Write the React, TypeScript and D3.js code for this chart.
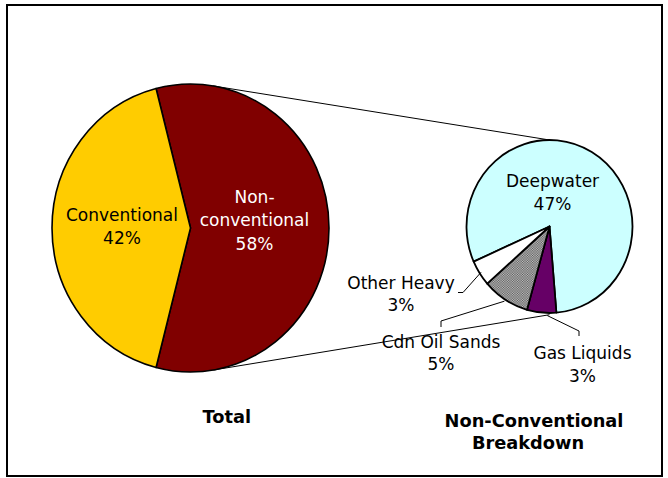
import React from "react";
import * as d3 from "d3";

// ---- data ----
const mainCategories = ["Non-\nconventional", "Conventional"];
const mainValues = [58, 42];
const mainColors = ["#800000", "#FFCC00"];
const mainTextColors = ["#ffffff", "#000000"];

const subCategories = ["Deepwater", "Gas Liquids", "Cdn Oil Sands", "Other Heavy"];
const subValues = [46.6, 3.3, 5.3, 2.8];
const subColors = ["#CCFFFF", "#660066", "url(#hatch)", "#ffffff"];

const titles = ["Total", "Non-Conventional\nBreakdown"];

// ---- layout ----
const W = 668;
const H = 478;
const BIG = { cx: 190.5, cy: 228, rx: 138.5, ry: 144 };
const SMALL = { cx: 549.5, cy: 226.5, rx: 83, ry: 86.5 };
const R = 100;
const deg = Math.PI / 180;

const mainLabelPos = [
  { x: 254.5, y: 202.5 },
  { x: 122, y: 220.5 },
];
const subLabelPos = [
  { x: 552.5, y: 187 },
  { x: 582.5, y: 359 },
  { x: 441, y: 347.5 },
  { x: 401, y: 288.5 },
];
// leader elbows (label side)
const leaders: Record<number, { pts: [number, number][]; r: number; da: number }> = {
  1: { pts: [[579, 331], [579, 336]], r: 1.03, da: -4 },
  2: { pts: [[441, 321], [441, 327]], r: 1.02, da: 0 },
  3: { pts: [[463, 292.5], [458, 292.5]], r: 0.98, da: 0 },
};

const FONT = "'DejaVu Sans', Verdana, sans-serif";

function ellPoint(e: { cx: number; cy: number; rx: number; ry: number }, a: number, k = 1) {
  return [e.cx + Math.sin(a) * e.rx * k, e.cy - Math.cos(a) * e.ry * k];
}

export default function App() {
  const arc = d3.arc<d3.PieArcDatum<number>>().innerRadius(0).outerRadius(R);

  const mainPie = d3
    .pie<number>()
    .sort(null)
    .startAngle(-14.4 * deg)
    .endAngle(-14.4 * deg + 2 * Math.PI)(mainValues);

  const subPie = d3
    .pie<number>()
    .sort(null)
    .startAngle(-114 * deg)
    .endAngle(-114 * deg + 2 * Math.PI)(subValues);

  const subTotal = d3.sum(subValues);
  const mainTotal = d3.sum(mainValues);

  const topStart = ellPoint(BIG, 9.35 * deg);
  const botStart = ellPoint(BIG, 170.5 * deg);
  const topEnd = ellPoint(SMALL, 0);
  const botEnd = ellPoint(SMALL, Math.PI, 1.02);

  return (
    <svg width={W} height={H} style={{ position: "absolute", left: 0, top: 0, background: "#fff" }}>
      <defs>
        <pattern id="hatch" width="2" height="2" patternUnits="userSpaceOnUse">
          <rect width="2" height="2" fill="#c8c8c8" />
          <rect x="0" y="0" width="1" height="1" fill="#555" />
          <rect x="1" y="1" width="1" height="1" fill="#555" />
        </pattern>
      </defs>
      <rect x={7} y={5} width={655} height={471} fill="none" stroke="#000" strokeWidth={2} />

      {/* connector lines */}
      <line x1={topStart[0]} y1={topStart[1]} x2={topEnd[0]} y2={topEnd[1]} stroke="#000" strokeWidth={1} />
      <line x1={botStart[0]} y1={botStart[1]} x2={botEnd[0]} y2={botEnd[1]} stroke="#000" strokeWidth={1} />

      {/* main pie */}
      <g transform={`translate(${BIG.cx},${BIG.cy}) scale(${BIG.rx / R},${BIG.ry / R})`}>
        {mainPie.map((d, i) => (
          <path
            key={i}
            d={arc(d) || ""}
            fill={mainColors[i]}
            stroke="#000"
            strokeWidth={1.6}
            strokeLinejoin="round"
            vectorEffect="non-scaling-stroke"
          />
        ))}
      </g>

      {/* sub pie */}
      <g transform={`translate(${SMALL.cx},${SMALL.cy}) scale(${SMALL.rx / R},${SMALL.ry / R})`}>
        {subPie.map((d, i) => (
          <path
            key={i}
            d={arc(d) || ""}
            fill={subColors[i]}
            stroke="#000"
            strokeWidth={1.8}
            strokeLinejoin="round"
            vectorEffect="non-scaling-stroke"
          />
        ))}
      </g>

      {/* leader lines */}
      {subPie.map((d, i) => {
        const L = leaders[i];
        if (!L) return null;
        const mid = (d.startAngle + d.endAngle) / 2 + L.da * deg;
        const p0 = ellPoint(SMALL, mid, L.r);
        const pts = [p0, ...L.pts];
        return (
          <polyline
            key={i}
            points={pts.map((p) => p.join(",")).join(" ")}
            fill="none"
            stroke="#000"
            strokeWidth={1}
          />
        );
      })}

      {/* main labels */}
      {mainCategories.map((c, i) => {
        const lines = [...c.split("\n"), `${Math.round((mainValues[i] / mainTotal) * 100)}%`];
        return (
          <text
            key={i}
            x={mainLabelPos[i].x}
            y={mainLabelPos[i].y}
            fontFamily={FONT}
            fontSize={17}
            fill={mainTextColors[i]}
            textAnchor="middle"
          >
            {lines.map((t, j) => (
              <tspan key={j} x={mainLabelPos[i].x} dy={j === 0 ? 0 : 23.5}>
                {t}
              </tspan>
            ))}
          </text>
        );
      })}

      {/* sub labels */}
      {subCategories.map((c, i) => {
        const pct = Math.round((subValues[i] / subTotal) * mainValues[0]);
        return (
          <text
            key={i}
            x={subLabelPos[i].x}
            y={subLabelPos[i].y}
            fontFamily={FONT}
            fontSize={17}
            fill="#000"
            textAnchor="middle"
          >
            <tspan x={subLabelPos[i].x} dy={0}>{c}</tspan>
            <tspan x={subLabelPos[i].x} dy={22.5}>{`${pct}%`}</tspan>
          </text>
        );
      })}

      {/* titles */}
      <text x={226.7} y={423.3} fontFamily={FONT} fontSize={17.8} fontWeight="bold" textAnchor="middle">
        {titles[0]}
      </text>
      <text x={532} y={426.7} fontFamily={FONT} fontSize={17.8} fontWeight="bold" textAnchor="middle">
        {titles[1].split("\n").map((t, j) => (
          <tspan key={j} x={j === 0 ? 534 : 528} dy={j === 0 ? 0 : 22.6}>
            {t}
          </tspan>
        ))}
      </text>
    </svg>
  );
}
